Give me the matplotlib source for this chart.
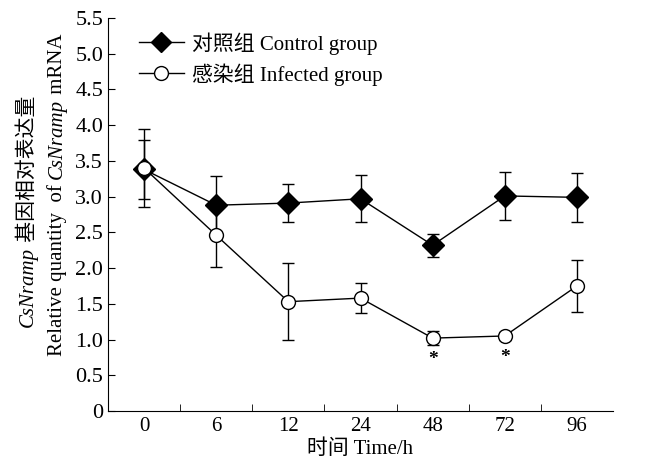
import matplotlib
matplotlib.use("Agg")
import matplotlib.pyplot as plt
from matplotlib.transforms import IdentityTransform
import numpy as np

plt.rcParams['font.family'] = ['Liberation Serif', 'Noto Sans CJK SC']

times = ['0', '6', '12', '24', '48', '72', '96']
control = [3.38, 2.88, 2.91, 2.97, 2.32, 3.01, 2.99]
control_err = [0.41, 0.41, 0.26, 0.33, 0.16, 0.33, 0.34]
infected = [3.40, 2.46, 1.53, 1.58, 1.02, 1.05, 1.75]
infected_err = [0.55, 0.44, 0.54, 0.21, 0.10, 0.05, 0.37]
sig_labels = ['', '', '', '', '*', '*', '']
yticks = [0, 0.5, 1.0, 1.5, 2.0, 2.5, 3.0, 3.5, 4.0, 4.5, 5.0, 5.5]
ytick_labels = ['0', '0.5', '1.0', '1.5', '2.0', '2.5', '3.0', '3.5', '4.0', '4.5', '5.0', '5.5']
legend_labels = ['对照组 Control group', '感染组 Infected group']
xlabel = '时间 Time/h'
ylabel_line1 = [('CsNramp', 'italic'), (' 基因相对表达量', 'normal')]
ylabel_line2 = [('Relative quantity  of ', 'normal'), ('CsNramp', 'italic'), (' mRNA', 'normal')]

W, H = 649, 463
fig = plt.figure(figsize=(W / 100, H / 100), dpi=100)
ax = fig.add_axes([108 / W, 1 - 411 / H, 505 / W, 393 / H])
x = np.arange(len(times))

ax.errorbar(x, control, yerr=control_err, fmt='-', color='black', lw=1,
            capsize=4, elinewidth=1, capthick=1, zorder=2)
ax.errorbar(x, infected, yerr=infected_err, fmt='-', color='black', lw=1,
            capsize=4, elinewidth=1, capthick=1, zorder=2)
ax.plot(x, control, 'D', color='black', ms=11, mfc='black', mec='black', zorder=3)
ax.plot(x, infected, 'o', color='black', ms=10, mfc='white', mec='black', mew=1, zorder=4)

for xi, yi, s in zip(x, infected, sig_labels):
    if s:
        ax.text(xi, yi - 0.30, s, ha='center', va='center', fontsize=14, fontweight='bold')

h1, = ax.plot([], [], '-D', color='black', ms=10, lw=1)
h2, = ax.plot([], [], '-o', color='black', mfc='white', ms=10, lw=1)
ax.legend([h1, h2], legend_labels,
          loc='upper left', bbox_to_anchor=(0.044, 0.985), frameon=False, fontsize=15,
          handlelength=2.2, handletextpad=0.35, labelspacing=0.4, borderaxespad=0.0)

ax.set_xlim(-0.5, 6.5)
ax.set_ylim(0, 5.5)
ax.set_xticks(x)
ax.set_xticklabels(times, fontsize=15)
ax.set_xticks(np.arange(0.5, 6, 1), minor=True)
ax.tick_params(axis='x', which='major', length=0, pad=4)
ax.tick_params(axis='x', which='minor', direction='in', length=5)
ax.set_yticks(yticks)
ax.set_yticklabels(ytick_labels, fontsize=16)
ax.tick_params(axis='y', direction='in', length=5, pad=3.5)
for sp in ['top', 'right']:
    ax.spines[sp].set_visible(False)

ax.set_xlabel(xlabel, fontsize=15, labelpad=3)

# y label: two vertical lines made of pieces (mixed italic / CJK)
renderer = fig.canvas.get_renderer()


def vertical_line(pieces, x_base, y_center, size):
    texts = []
    total = 0.0
    for s, style in pieces:
        t = fig.text(0, 0, s, rotation=90, rotation_mode='anchor', ha='left',
                     va='baseline', fontsize=size, style=style,
                     transform=IdentityTransform())
        h = t.get_window_extent(renderer).height
        texts.append((t, h))
        total += h
    y = y_center - total / 2
    for t, h in texts:
        t.set_position((x_base, y))
        y += h


vertical_line(ylabel_line1, 33, H - 211, 15)
vertical_line(ylabel_line2, 62, H - 195, 15)

fig.savefig('out.png', dpi=100)
